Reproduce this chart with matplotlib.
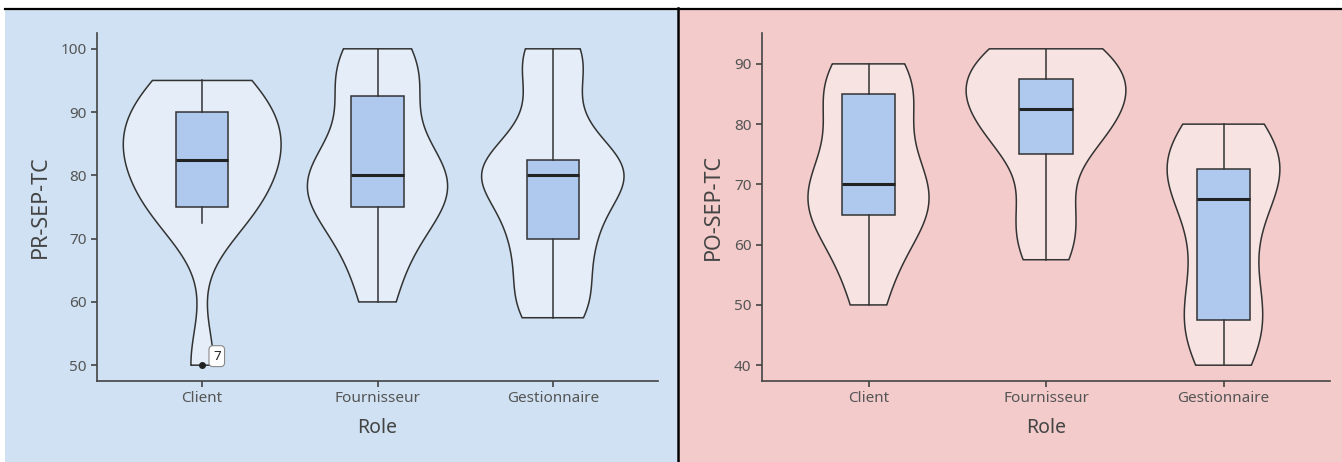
import numpy as np
import matplotlib.pyplot as plt
from matplotlib.patches import Rectangle
from matplotlib.lines import Line2D

plt.rcParams['font.family'] = ['Noto Sans', 'DejaVu Sans']

# Data (scores per role)
roles = ['Client', 'Fournisseur', 'Gestionnaire']

pr_client = [50, 72.5, 75, 75, 80, 82.5, 82.5, 85, 87.5, 90, 90, 95, 95]
pr_fourn = [60, 67.5, 72.5, 75, 77.5, 80, 80, 80, 82.5, 92.5, 95, 97.5, 100]
pr_gest = [57.5, 60, 65, 70, 72.5, 77.5, 80, 80, 82.5, 82.5, 90, 97.5, 100]

po_client = [50, 57.5, 62.5, 65, 67.5, 67.5, 70, 72.5, 77.5, 85, 85, 87.5, 90]
po_fourn = [57.5, 62.5, 67.5, 75, 77.5, 80, 82.5, 85, 85, 87.5, 90, 92.5, 92.5]
po_gest = [40, 45, 47.5, 47.5, 55, 60, 67.5, 70, 72.5, 72.5, 75, 77.5, 80]

pr_ticks = [50, 60, 70, 80, 90, 100]
po_ticks = [40, 50, 60, 70, 80, 90]

# outlier label (row number)
pr_outlier_label = '7'

BOX_COL = '#aec8ee'
LINE_COL = '#333333'


def bw_nrd0(x):
    x = np.asarray(x, float)
    sd = np.std(x, ddof=1)
    iqr = np.subtract(*np.percentile(x, [75, 25]))
    lo = min(sd, iqr / 1.34)
    if lo == 0:
        lo = sd
    return 0.9 * lo * len(x) ** -0.2


def density(x):
    x = np.asarray(x, float)
    bw = bw_nrd0(x)
    ys = np.linspace(x.min(), x.max(), 512)
    d = np.exp(-0.5 * ((ys[:, None] - x[None, :]) / bw) ** 2).sum(1)
    d /= len(x) * bw * np.sqrt(2 * np.pi)
    return ys, d


def draw_panel(ax, groups, fill, ylabel, ticks, ylim):
    dens = [density(g) for g in groups]
    dmax = max(d.max() for _, d in dens)
    for i, (ys, d) in enumerate(dens):
        pos = i + 1
        hw = 0.45 * d / dmax
        xs = np.concatenate([pos - hw, (pos + hw)[::-1]])
        yy = np.concatenate([ys, ys[::-1]])
        ax.fill(xs, yy, facecolor=fill, edgecolor=LINE_COL, linewidth=1.1, zorder=2)
    ax.boxplot(groups, positions=[1, 2, 3], widths=0.3, patch_artist=True,
               showcaps=False, whis=1.5,
               boxprops=dict(facecolor=BOX_COL, edgecolor=LINE_COL, linewidth=1.1),
               whiskerprops=dict(color=LINE_COL, linewidth=1.1),
               medianprops=dict(color='#222222', linewidth=2.2),
               flierprops=dict(marker='o', markersize=4, markerfacecolor='#222222',
                               markeredgecolor='#222222'),
               zorder=3)
    ax.set_xlim(0.4, 3.6)
    ax.set_ylim(*ylim)
    ax.set_xticks([1, 2, 3])
    ax.set_xticklabels(roles)
    ax.set_yticks(ticks)
    ax.set_facecolor('none')
    for s in ['top', 'right']:
        ax.spines[s].set_visible(False)
    for s in ['left', 'bottom']:
        ax.spines[s].set_color('#444444')
        ax.spines[s].set_linewidth(1.2)
    ax.tick_params(colors='#444444', labelcolor='#555555', labelsize=11,
                   length=4, width=1.2)
    ax.set_xlabel('Role', fontsize=14, color='#444444', labelpad=8)
    ax.set_ylabel(ylabel, fontsize=15.5, color='#444444', labelpad=7)


fig = plt.figure(figsize=(13.42, 4.62), dpi=100)
W, H = 1342, 462
fig.add_artist(Rectangle((5 / W, 0), 672 / W, 1 - 9 / H, transform=fig.transFigure,
                         facecolor='#cfe1f2', edgecolor='none', zorder=-10))
fig.add_artist(Rectangle((678 / W, 0), 1 - 678 / W, 1 - 9 / H, transform=fig.transFigure,
                         facecolor='#f3cbcb', edgecolor='none', zorder=-10))
fig.add_artist(Line2D([5 / W, 1], [1 - 8.5 / H, 1 - 8.5 / H], transform=fig.transFigure,
                      color='black', linewidth=1.6, zorder=-5))
fig.add_artist(Line2D([677.5 / W, 677.5 / W], [0, 1 - 8 / H], transform=fig.transFigure,
                      color='black', linewidth=1.8, zorder=-5))

ax1 = fig.add_axes([97 / W, 1 - 381 / H, 561 / W, 348 / H])
ax2 = fig.add_axes([762 / W, 1 - 381 / H, 568 / W, 348 / H])

draw_panel(ax1, [pr_client, pr_fourn, pr_gest], '#e5eef8', 'PR-SEP-TC', pr_ticks, (47.5, 102.5))
draw_panel(ax2, [po_client, po_fourn, po_gest], '#f8e3e3', 'PO-SEP-TC', po_ticks, (37.375, 95.125))

ax1.annotate(pr_outlier_label, xy=(1, min(pr_client)), xytext=(10.5, 6.5),
             textcoords='offset points', fontsize=9.5, color='#222222',
             ha='center', va='center',
             bbox=dict(boxstyle='round,pad=0.3', facecolor='white',
                       edgecolor='#888888', linewidth=0.8), zorder=5)

fig.savefig('out.png', dpi=100)
